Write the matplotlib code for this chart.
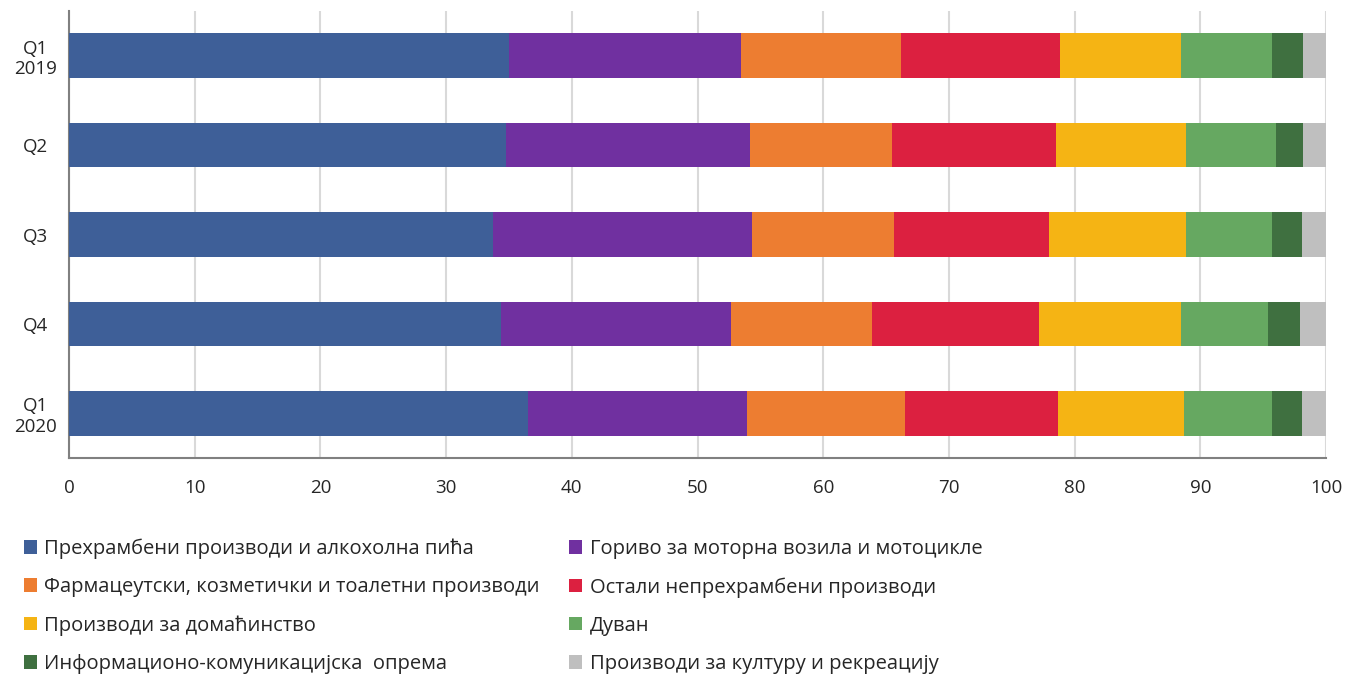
import matplotlib.pyplot as plt
import numpy as np

plt.rcParams['font.family'] = ['Open Sans', 'DejaVu Sans']

quarters = ["Q1\n2019", "Q2", "Q3", "Q4", "Q1\n2020"]
categories = [
    "Прехрамбени производи и алкохолна пића",
    "Гориво за моторна возила и мотоцикле",
    "Фармацеутски, козметички и тоалетни производи",
    "Остали непрехрамбени производи",
    "Производи за домаћинство",
    "Дуван",
    "Информационо-комуникацијска  опрема",
    "Производи за културу и рекреацију",
]
colors = ["#3E5F98", "#7030A0", "#ED7D31", "#DC2040",
          "#F5B414", "#66A861", "#3F7040", "#BFBFBF"]

# shares per quarter, in %
food = [35.0, 34.8, 33.7, 34.4, 36.5]
fuel = [18.5, 19.4, 20.6, 18.3, 17.4]
pharma = [12.7, 11.3, 11.3, 11.2, 12.6]
other = [12.6, 13.0, 12.4, 13.3, 12.2]
household = [9.7, 10.4, 10.9, 11.3, 10.0]
tobacco = [7.2, 7.1, 6.8, 6.9, 7.0]
ict = [2.5, 2.2, 2.4, 2.5, 2.4]
culture = [1.8, 1.8, 1.9, 2.1, 1.9]
series = [food, fuel, pharma, other, household, tobacco, ict, culture]

fig = plt.figure(figsize=(13.58, 6.75), dpi=100)
ax = fig.add_axes([69 / 1358, 1 - 458 / 675, (1326 - 69) / 1358, (458 - 11) / 675])

y = np.arange(len(quarters))
left = np.zeros(len(quarters))
handles = []
for vals, col, name in zip(series, colors, categories):
    b = ax.barh(y, vals, left=left, height=0.5, color=col, label=name, zorder=3)
    handles.append(b)
    left += np.array(vals)

ax.set_xlim(0, 100)
ax.set_ylim(len(quarters) - 0.5, -0.5)
ax.set_xticks(range(0, 101, 10))
ax.set_yticks(y)
ax.set_yticklabels(quarters, ha='center', fontsize=13.5, color='#262626')
ax.tick_params(axis='y', length=0, pad=24)
ax.tick_params(axis='x', length=0, pad=15, labelsize=13.5, labelcolor='#262626')
ax.grid(axis='x', color='#D9D9D9', linewidth=1.5, zorder=0)
for s in ['top', 'right']:
    ax.spines[s].set_visible(False)
for s in ['left', 'bottom']:
    ax.spines[s].set_color('#808080')
    ax.spines[s].set_linewidth(1.5)

# legend is filled row by row in the reference, matplotlib fills columns
order = [0, 2, 4, 6, 1, 3, 5, 7]
leg = fig.legend([handles[i] for i in order], [categories[i] for i in order],
                 ncol=2, loc='upper left', bbox_to_anchor=(0.004, 0.229),
                 frameon=False, fontsize=14.5, handlelength=0.65, handleheight=0.65,
                 handletextpad=0.35, columnspacing=1.5, labelspacing=0.9)
for t in leg.get_texts():
    t.set_color('#262626')

fig.savefig("out.png", dpi=100)
